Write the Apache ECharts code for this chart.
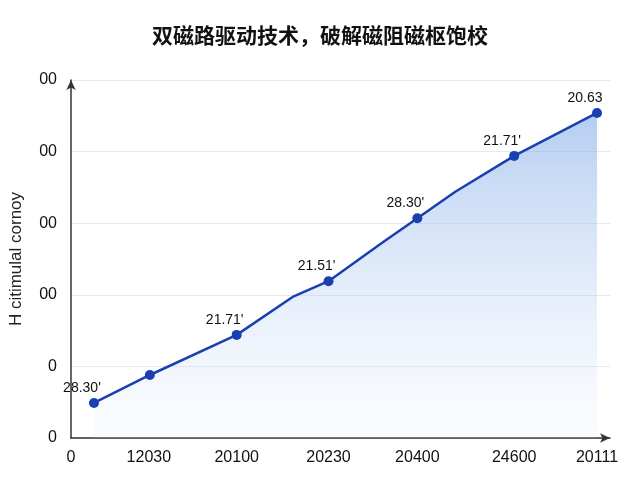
<!DOCTYPE html>
<html><head><meta charset="utf-8">
<script src="https://cdn.jsdelivr.net/npm/echarts@6/dist/echarts.min.js"></script>
<style>html,body{margin:0;background:#fff}#c{width:640px;height:480px}</style>
</head><body><div id="c"></div>
<script>
const title = '双磁路驱动技术，破解磁阻磁枢饱校';
const yName = 'H citimulal cornoy';
const xs = [23, 79, 166, 222, 258, 311, 347, 385, 444, 527];
const ys = [49, 88, 144, 197, 219, 272, 307, 344, 394, 454];
const pointLabels = ["28.30'", '', "21.71'", '', "21.51'", '', "28.30'", '', "21.71'", '20.63'];
const hasMarker = [1, 1, 1, 0, 1, 0, 1, 0, 1, 1];
const xTickValues = [0, 78, 166, 258, 347, 444, 527];
const xTickLabels = ['0', '12030', '20100', '20230', '20400', '24600', '20111'];
const yTickLabels = ['0', '0', '00', '00', '00', '00'];

const data = xs.map((x, i) => ({
  value: [x, ys[i]],
  symbolSize: hasMarker[i] ? 10 : 0,
  label: {show: !!pointLabels[i], formatter: pointLabels[i]}
}));
const chart = echarts.init(document.getElementById('c'));
chart.setOption({
  title: {text: title, left: 'center', top: 20, textStyle: {fontSize: 21, fontWeight: 'bold', color: '#111', fontFamily: 'Noto Sans CJK SC'}},
  grid: {left: 70, right: 30, top: 80, bottom: 42},
  xAxis: {type: 'value', min: 0, max: 540,
    axisLine: {lineStyle: {color: '#333', width: 1.5}, symbol: ['none', 'arrow'], symbolSize: [7, 10]},
    axisTick: {show: false}, splitLine: {show: false},
    axisLabel: {customValues: xTickValues, formatter: v => xTickLabels[xTickValues.indexOf(v)] || '', color: '#111', fontSize: 16, margin: 12}},
  yAxis: {type: 'value', min: 0, max: 500, interval: 100, name: yName, nameLocation: 'middle', nameGap: 46,
    nameTextStyle: {fontSize: 17, color: '#222'},
    axisLine: {show: true, lineStyle: {color: '#333', width: 1.5}, symbol: ['none', 'arrow'], symbolSize: [7, 10]},
    axisTick: {show: false},
    splitLine: {lineStyle: {color: '#e6e9ef'}},
    axisLabel: {formatter: v => yTickLabels[v / 100], color: '#111', fontSize: 16, margin: 14}},
  series: [{type: 'line', data: data, symbol: 'circle', color: '#1a3fb0',
    lineStyle: {width: 2.5, color: '#1a3fb0'}, itemStyle: {color: '#1a3fb0'},
    label: {position: 'top', offset: [-12, 2], color: '#111', fontSize: 14},
    areaStyle: {color: new echarts.graphic.LinearGradient(0, 0, 0, 1, [
      {offset: 0, color: 'rgba(120,165,230,0.8)'}, {offset: 1, color: 'rgba(220,232,250,0.2)'}])}
  }]
});
</script></body></html>
